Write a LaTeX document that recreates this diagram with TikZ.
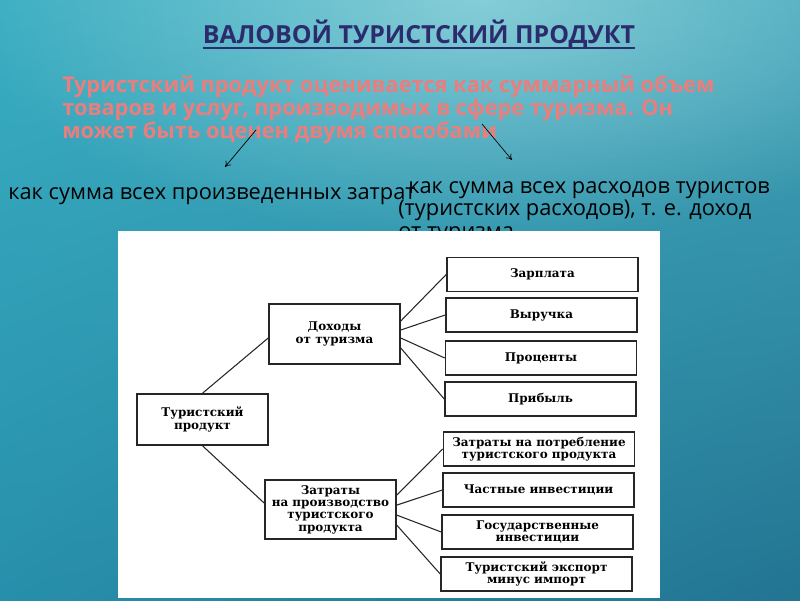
\documentclass[tikz,border=0pt]{standalone}
\usepackage{fontspec}
\setmainfont{Open Sans}
\newfontfamily\schemefont{DejaVu Serif}
\usetikzlibrary{arrows.meta,fadings}

\definecolor{titleblue}{RGB}{43,43,110}
\definecolor{salmon}{RGB}{236,125,125}
\definecolor{foam}{RGB}{205,242,242}

% sea-like background: four corner colours
\pgfdeclarefunctionalshading{seabg}{\pgfpoint{-50bp}{-50bp}}{\pgfpoint{50bp}{50bp}}{}{
50 add 100 div exch 50 add 100 div exch
2 copy mul 0.176 mul 2 index -0.078 mul add 1 index 0.098 mul add 0.137 add 3 1 roll
2 copy mul 0.283 mul 2 index -0.275 mul add 1 index 0.168 mul add 0.569 add 3 1 roll
2 copy mul 0.255 mul 2 index -0.255 mul add 1 index 0.118 mul add 0.686 add 3 1 roll
pop pop
}
\tikzfading[name=glow,inner color=transparent!0,outer color=transparent!100]

\begin{document}
\begin{tikzpicture}[x=0.25mm,y=-0.25mm,
  box/.style={draw=black!85,line width=1.1pt,fill=white,align=center,inner sep=1pt,
    font=\schemefont\bfseries\fontsize{8.5}{8.8}\selectfont},
  leaf/.style={box,minimum width=47.75mm,minimum height=8.5mm},
  link/.style={draw=black!85,line width=0.75pt},
  pointer/.style={-{To[length=4pt,width=5pt]},line width=0.5pt},
  intro/.style={anchor=base west,inner sep=0,text=salmon,font=\bfseries\fontsize{15.5}{17}\selectfont},
  way/.style={anchor=base west,inner sep=0,font=\fontsize{15.5}{17}\selectfont}]

\useasboundingbox (0,0) rectangle (800,600);
\begin{scope}
\clip (0,0) rectangle (800,600);
\shade[shading=seabg] (0,0) rectangle (800,600);
\fill[foam,opacity=0.5,path fading=glow] (480,0) ellipse (520 and 240);
\end{scope}

% heading
\node[anchor=base,inner sep=0,text=titleblue,font=\bfseries\fontsize{17.7}{20}\selectfont] (title) at (419,43) {ВАЛОВОЙ ТУРИСТСКИЙ ПРОДУКТ};
\draw[titleblue,line width=1.4pt] ([yshift=-1.2mm]title.base west) -- ([yshift=-1.2mm]title.base east);

\node[intro] (intro1) at (62,92) {Туристский продукт оценивается как суммарный объем};
\node[intro] (intro2) at (62,115) {товаров и услуг, производимых в сфере туризма. Он};
\node[intro] (intro3) at (62,138) {может быть оценен двумя способами};

\coordinate (p1) at (256,130);
\coordinate (q1) at (225,167);
\coordinate (p2) at (482,124);
\coordinate (q2) at (512,160);
\draw[pointer] (p1) -- (q1);
\draw[pointer] (p2) -- (q2);

\node[way] (way1) at (8,199) {как сумма всех произведенных затрат};
\node[way] (way2a) at (408,193) {как сумма всех расходов туристов};
\node[way] (way2b) at (398,215) {(туристских расходов), т. е. доход};
\node[way] (way2c) at (398,238) {от туризма};

% scheme sheet
\fill[white] (118,231) rectangle (660,598);

\node[box,minimum width=32.75mm,minimum height=12.75mm] (prod) at (202.5,419.5) {Туристский\\продукт};
\node[box,minimum width=32.75mm,minimum height=15mm] (inc) at (334.5,334) {Доходы\\от туризма};
\node[box,minimum width=32.75mm,minimum height=14.75mm] (cost) at (330.5,509.5) {Затраты\\на производство\\туристского\\продукта};

\node[leaf] (zarp) at (542.5,274.5) {Зарплата};
\node[leaf] (vyr) at (541.5,315) {Выручка};
\node[leaf] (proc) at (541,358) {Проценты};
\node[leaf] (prib) at (540.5,399) {Прибыль};
\node[leaf] (potr) at (539,449) {Затраты на потребление\\туристского продукта};
\node[leaf] (chast) at (538.5,490) {Частные инвестиции};
\node[leaf] (gos) at (537.5,532) {Государственные\\инвестиции};
\node[leaf] (exp) at (536.5,574) {Туристский экспорт\\минус импорт};

\draw[link] (prod.north) -- ([yshift=-1mm]inc.west);
\draw[link] (prod.south) -- ([yshift=1.6mm]cost.west);

\draw[link] ([yshift=3.25mm]inc.east) -- (zarp.west);
\draw[link] ([yshift=1mm]inc.east) -- (vyr.west);
\draw[link] ([yshift=-1mm]inc.east) -- (proc.west);
\draw[link] ([yshift=-3.5mm]inc.east) -- (prib.west);

\draw[link] ([yshift=3.6mm]cost.east) -- (potr.west);
\draw[link] ([yshift=1.1mm]cost.east) -- (chast.west);
\draw[link] ([yshift=-1.4mm]cost.east) -- (gos.west);
\draw[link] ([yshift=-3.9mm]cost.east) -- (exp.west);

\end{tikzpicture}
\end{document}
